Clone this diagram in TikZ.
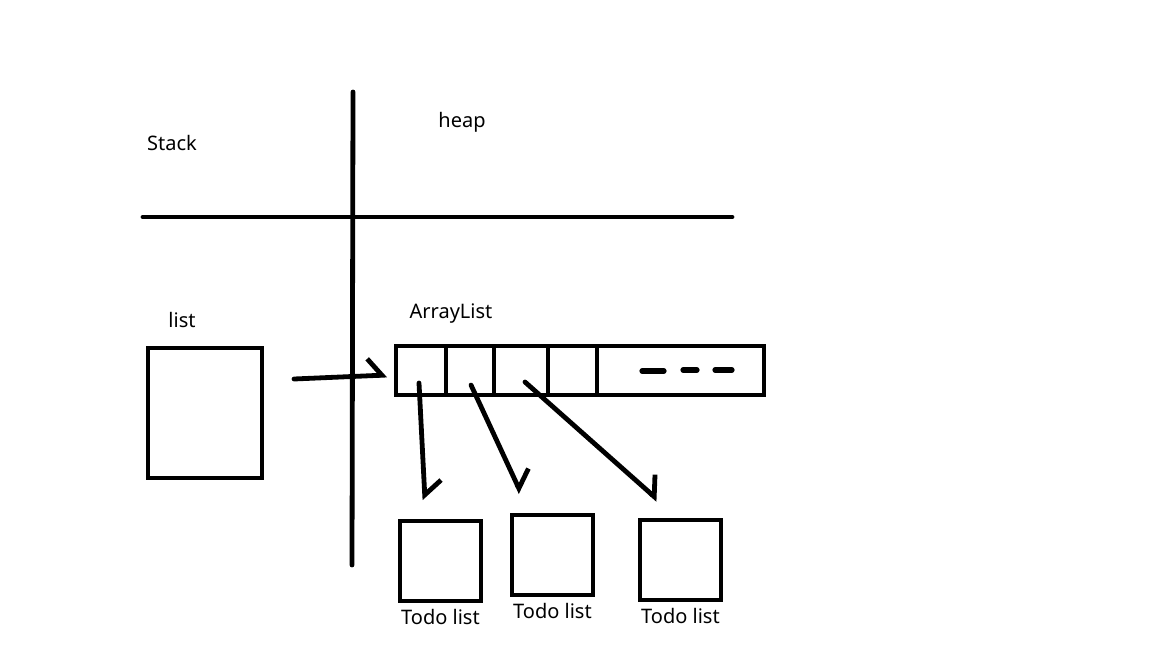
\documentclass[tikz,border=0pt]{standalone}
\usepackage{fontspec}
\setmainfont{Noto Sans}
\usetikzlibrary{arrows.meta,positioning}
\tikzset{
  memline/.style={line width=2.4pt, line cap=round},
  membox/.style={draw, line width=2.4pt, inner sep=0pt, outer sep=0pt},
  cell/.style={membox, minimum height=24.5pt},
  listbox/.style={membox, minimum width=57pt, minimum height=65pt},
  todobox/.style={membox, minimum width=40.5pt, minimum height=40pt},
  ref/.style={line width=2.4pt, line cap=round, -{Straight Barb[left, length=7pt, width=17pt, line width=2.4pt]}},
  dash3/.style={line width=2.6pt, line cap=round},
  lbl/.style={font=\fontsize{10}{12}\selectfont, inner sep=0pt}
}
\begin{document}
\begin{tikzpicture}[x=0.5pt, y=-0.5pt]
  \useasboundingbox[fill=white] (0,0) rectangle (1152,648);
  \draw[memline] (143,217) -- (732,217);
  \draw[memline] (353,92) -- (352,565);
  \node[lbl] (stack) at (172,143) {Stack};
  \node[lbl] (heap) at (462,122) {heap};
  \node[lbl] (listname) at (182,320) {list};
  \node[listbox] (list) at (205,413) {};
  \node[lbl] (arrname) at (451,314) {ArrayList};
  \node[cell, minimum width=25pt] (c1) at (421,370.5) {};
  \node[cell, minimum width=24pt, right=0pt of c1] (c2) {};
  \node[cell, minimum width=27pt, right=0pt of c2] (c3) {};
  \node[cell, minimum width=24.5pt, right=0pt of c3] (c4) {};
  \node[cell, minimum width=83.5pt, right=0pt of c4] (rest) {};
  \draw[dash3] (642,371) -- (664,371);
  \draw[dash3] (683,370) -- (697,370);
  \draw[dash3] (715,370) -- (732,370);
  \node[todobox] (todoA) at (440.5,561) {};
  \node[todobox] (todoB) at (552.5,555) {};
  \node[todobox] (todoC) at (680.5,560) {};
  \node[lbl, below=4pt of todoA] {Todo list};
  \node[lbl, below=4pt of todoB] {Todo list};
  \node[lbl, below=4pt of todoC] {Todo list};
  \coordinate (ls) at (294,379);
  \coordinate (le) at (387,375);
  \coordinate (p1) at (419,383);
  \coordinate (p2) at (471,385);
  \coordinate (p3) at (525,382);
  \coordinate (t1) at (425,500);
  \coordinate (t2) at (521,493);
  \coordinate (t3) at (658,500);
  \draw[ref] (ls) -- (le);
  \foreach \a/\b in {p1/t1,p2/t2,p3/t3}{\draw[ref] (\a) -- (\b);}
\end{tikzpicture}
\end{document}
